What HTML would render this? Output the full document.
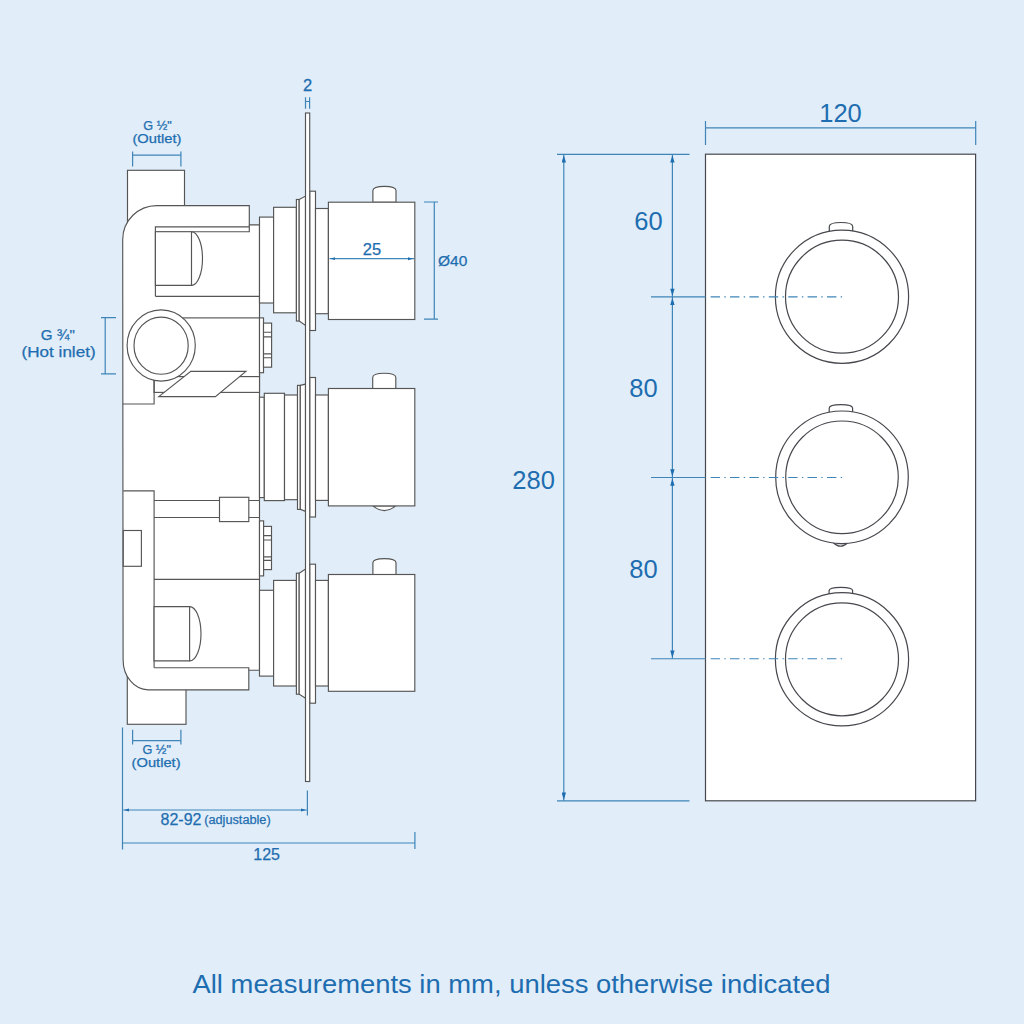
<!DOCTYPE html>
<html><head><meta charset="utf-8"><style>
html,body{margin:0;padding:0;background:#E1EDF8;}
svg{display:block;}
text{font-family:"Liberation Sans",sans-serif;fill:#1E6DB0;}
</style></head><body>
<svg width="1024" height="1024" viewBox="0 0 1024 1024">
<defs>
<marker id="ah" viewBox="0 0 10 6" refX="11.2" refY="3" markerWidth="8.3" markerHeight="4.4" markerUnits="userSpaceOnUse" orient="auto-start-reverse"><path d="M0,0 L10,3 L0,6 z" fill="#1E6DB0"/></marker>
<marker id="as" viewBox="0 0 10 6" refX="11.5" refY="3" markerWidth="5.2" markerHeight="3.6" markerUnits="userSpaceOnUse" orient="auto-start-reverse"><path d="M0,0 L10,3 L0,6 z" fill="#1E6DB0"/></marker>
</defs>
<rect x="0" y="0" width="1024" height="1024" fill="#E1EDF8"/>

<!-- ============ SIDE VIEW ============ -->
<g id="side" fill="#fff" stroke="#555" stroke-width="1.15" stroke-linejoin="miter">
  <!-- outlet pipes -->
  <rect x="127.5" y="170.3" width="57" height="60"/>
  <rect x="127.3" y="665" width="58.7" height="59.3"/>
  <!-- body silhouette -->
  <path d="M122.7,239.5 A34,33.9 0 0 1 156.7,205.6 L249.3,205.6 L249.3,224.9 L259.5,224.9 L259.5,670.2 L248.8,670.2 L248.8,689.8 L148.1,689.8 A25,30.1 0 0 1 123.1,659.7 Z"/>
  <!-- top elbow internals -->
  <path fill="none" d="M155.4,296.3 L155.4,226.8 L249.3,226.8 M155.4,231.7 L249.3,231.7 L249.3,224.9 M155.4,296.3 L259.5,296.3"/>
  <!-- top cartridge -->
  <path d="M155.4,231.7 L191.5,231.7 L191.5,285.4 L155.4,285.4 Z"/>
  <path fill="none" d="M191.5,231.7 A11,26.85 0 0 1 191.5,285.4"/>
  <!-- inlet housing & pipe -->
  <rect x="170" y="317.9" width="89.5" height="58.7"/>
  <rect x="154.1" y="376.6" width="105.4" height="15.8"/>
  <path fill="none" d="M122.8,404 L154.1,404 L154.1,378"/>
  <!-- hot inlet circle -->
  <ellipse cx="161.2" cy="345.45" rx="34.1" ry="35.6"/>
  <ellipse cx="161.1" cy="345.65" rx="27.1" ry="28.55"/>
  <!-- parallelogram -->
  <path d="M190.8,371.4 L245.9,371.4 L215.4,396.6 L158.8,396.6 Z"/>
  <!-- lower middle -->
  <path fill="none" d="M123.3,490.8 L154.1,490.8 L154.1,667.7 M154.1,500.5 L259.5,500.5 M154.1,517.5 L259.5,517.5 M154.1,579.4 L259.5,579.4"/>
  <rect x="219.5" y="497.3" width="29.3" height="24.3"/>
  <rect x="123.3" y="530.5" width="18.1" height="35.8"/>
  <!-- lower cartridge -->
  <path d="M154.1,606.6 L189.6,606.6 L189.6,660.9 L154.1,660.9 Z"/>
  <path fill="none" d="M189.6,606.6 A11.4,27.15 0 0 1 189.6,660.9"/>
  <path fill="none" d="M154.1,667.7 L248.8,667.7 L248.8,670.2"/>

  <!-- nuts -->
  <rect x="259.5" y="317.9" width="4" height="54.8"/>
  <rect x="263.5" y="323.1" width="8.1" height="44.1"/>
  <path fill="none" d="M263.5,332.2 H271.6 M263.5,336.9 H271.6 M263.5,353.9 H271.6 M263.5,357.7 H271.6"/>
  <rect x="259.5" y="520.9" width="4.1" height="55"/>
  <rect x="263.6" y="526.4" width="7.9" height="43.2"/>
  <path fill="none" d="M263.6,535.6 H271.5 M263.6,540 H271.5 M263.6,556.8 H271.5 M263.6,560.4 H271.5"/>

  <!-- handle 1 -->
  <rect x="259.5" y="217.1" width="14.1" height="85.9"/>
  <rect x="273.6" y="207.3" width="22.8" height="105.5"/>
  <rect x="296.4" y="199.5" width="2.8" height="121.5"/>
  <path d="M299.2,199.5 L305.5,196.1 L305.5,325.4 L299.2,321 Z"/>
  <rect x="309.7" y="191.2" width="5.8" height="139.3"/>
  <rect x="315.5" y="208.5" width="12.9" height="105.2"/>
  <path d="M372.9,202.2 L372.9,190.5 C372.9,187.5 376.9,186.3 384.45,186.3 C392,186.3 396,187.5 396,190.5 L396,202.2 Z"/>
  <rect x="328.4" y="202.2" width="86.4" height="117.3"/>
  <!-- handle 2 -->
  <rect x="259.5" y="397.2" width="4.8" height="100.4"/>
  <rect x="264.3" y="393.3" width="20.2" height="107.3"/>
  <rect x="284.5" y="395" width="13" height="104.7"/>
  <rect x="297.5" y="385.4" width="2.8" height="124"/>
  <path d="M300.3,385.4 L305.5,384.1 L305.5,511.4 L300.3,509.4 Z"/>
  <rect x="309.7" y="377.5" width="5.8" height="139.5"/>
  <rect x="315.5" y="395" width="12.9" height="105.4"/>
  <path d="M372.7,388.5 L372.7,377.4 C372.7,374.4 376.7,373.2 384.25,373.2 C391.8,373.2 395.8,374.4 395.8,377.4 L395.8,388.5 Z"/>
  <path d="M372.9,505.9 Q384.3,515.2 395.7,505.9 Z"/>
  <rect x="328.4" y="388.5" width="86.4" height="117.4"/>
  <!-- handle 3 -->
  <rect x="259.5" y="590.3" width="14.1" height="85.8"/>
  <rect x="273.6" y="580.4" width="22.8" height="105.6"/>
  <rect x="296.4" y="573.2" width="2.8" height="121"/>
  <path d="M299.2,573.2 L305.5,569 L305.5,698.3 L299.2,694.2 Z"/>
  <rect x="309.7" y="564.2" width="5.8" height="139"/>
  <rect x="315.5" y="580.4" width="12.9" height="105.6"/>
  <path d="M372.9,574.5 L372.9,562.8000000000001 C372.9,559.8000000000001 376.9,558.6 384.45,558.6 C392,558.6 396,559.8000000000001 396,562.8000000000001 L396,574.5 Z"/>
  <rect x="328.4" y="574.5" width="86.4" height="116.8"/>
  <!-- wall plate -->
  <rect x="305.5" y="113" width="4.2" height="668.5"/>
</g>

<!-- ============ FRONT VIEW ============ -->
<g fill="#fff" stroke="#46484d" stroke-width="1.2">
  <rect x="705.5" y="154.2" width="270.1" height="646.6"/>
  <path d="M829.3,236 L829.3,226.5 C829.3,223.5 833.3,222.5 841.00,222.5 C848.7,222.5 852.7,223.5 852.7,226.5 L852.7,236 Z"/>
  <circle cx="842" cy="296.7" r="66.6"/><circle cx="842" cy="296.7" r="56.5"/>
  <path d="M829.2,418 L829.2,408.3 C829.2,405.7 833.2,404.7 840.90,404.7 C848.6,404.7 852.6,405.7 852.6,408.3 L852.6,418 Z"/>
  <path d="M832.8,542 Q840.5,550.5 848.3,542 Z" fill="#ddd"/>
  <circle cx="842" cy="477.3" r="66.3"/><circle cx="842" cy="477.3" r="56.3"/>
  <path d="M829.1,600 L829.1,590.6 C829.1,588.4 833.1,587.4 840.85,587.4 C848.6,587.4 852.6,588.4 852.6,590.6 L852.6,600 Z"/>
  <circle cx="842" cy="659.3" r="66.6"/><circle cx="842" cy="659.3" r="56.5"/>
</g>

<!-- ============ DIMENSIONS ============ -->
<g fill="none" stroke="#3F85B8" stroke-width="1.2">
  <!-- G1/2 top -->
  <path d="M132.6,151.4 V166.6 M180.9,151.4 V166.6 M132.6,155.2 H180.9"/>
  <!-- G1/2 bottom -->
  <path d="M132.6,729.8 V744.6 M180.9,729.8 V744.6 M132.6,740.7 H180.9"/>
  <!-- G3/4 -->
  <path d="M105.2,317.7 V373.9 M101,317.7 H116 M101,373.9 H116"/>
  <!-- 2 marker -->
  <path d="M305.5,97.2 V108.7 M309.6,97.2 V108.7 M305.5,101.5 H309.6"/>
  <!-- 25 -->
  <path d="M329.5,258.7 H414" marker-start="url(#as)" marker-end="url(#as)"/>
  <!-- Ø40 -->
  <path d="M424,202 H438 M424,319.2 H438 M434.3,202 V319.2"/>
  <!-- 82-92 -->
  <path d="M123.2,810 H306.9" marker-start="url(#as)" marker-end="url(#as)"/>
  <path d="M307.4,790.4 V815.4 M122.5,727.4 V849.5"/>
  <!-- 125 -->
  <path d="M122.5,843 H414.9 M414.9,832 V849"/>
  <!-- 120 -->
  <path d="M705.5,121 V145 M975.7,121 V145 M705.5,127.8 H975.7"/>
  <!-- 280 -->
  <path d="M557,154.4 H689.5 M557,800.8 H689.5"/>
  <path d="M563.8,154.4 V800.8" marker-start="url(#ah)" marker-end="url(#ah)"/>
  <!-- 60/80/80 -->
  <path d="M672.4,154.4 V296.9" marker-start="url(#ah)" marker-end="url(#ah)"/>
  <path d="M672.4,296.9 V477.5" marker-start="url(#ah)" marker-end="url(#ah)"/>
  <path d="M672.4,477.5 V658.75" marker-start="url(#ah)" marker-end="url(#ah)"/>
  <!-- center lines -->
  <path d="M651,296.9 H705.5 M651,477.5 H705.5 M651,658.75 H705.5"/>
  <path d="M710.6,296.9 H843 M710.6,477.5 H843 M710.6,658.75 H843" stroke-dasharray="9.4 4.3 1.4 4.3"/>
</g>

<!-- ============ TEXT ============ -->
<g>
<g stroke="#1E6DB0" stroke-width="0.25">
  <text x="143.3" y="129.5" font-size="12.5" textLength="28.4" lengthAdjust="spacingAndGlyphs">G ½"</text>
  <text x="132.4" y="142.6" font-size="12.5" textLength="49" lengthAdjust="spacingAndGlyphs">(Outlet)</text>
  <text x="142.5" y="754.4" font-size="12.5" textLength="28.4" lengthAdjust="spacingAndGlyphs">G ½"</text>
  <text x="131.6" y="767.3" font-size="12.5" textLength="49" lengthAdjust="spacingAndGlyphs">(Outlet)</text>
  <text x="40.8" y="339.5" font-size="14.5" textLength="34" lengthAdjust="spacingAndGlyphs">G ¾"</text>
  <text x="21.6" y="357.3" font-size="14.5" textLength="74" lengthAdjust="spacingAndGlyphs">(Hot inlet)</text>
</g>
  <text x="307.7" y="90.8" font-size="16.5" text-anchor="middle" stroke="#1E6DB0" stroke-width="0.3">2</text>
  <text x="372" y="254.9" font-size="16.5" text-anchor="middle" stroke="#1E6DB0" stroke-width="0.25">25</text>
  <text x="438" y="265.8" font-size="15.5" stroke="#1E6DB0" stroke-width="0.25">Ø40</text>
  <text x="160.5" y="824.6" font-size="16" stroke="#1E6DB0" stroke-width="0.25">82-92</text>
  <text x="204.2" y="824" font-size="12.5" textLength="66.5" lengthAdjust="spacingAndGlyphs" stroke="#1E6DB0" stroke-width="0.25">(adjustable)</text>
  <text x="266.6" y="859.7" font-size="16" text-anchor="middle" stroke="#1E6DB0" stroke-width="0.25">125</text>
  <text x="840.5" y="122" font-size="25.5" text-anchor="middle">120</text>
  <text x="648.5" y="230.2" font-size="25.5" text-anchor="middle">60</text>
  <text x="643.5" y="397.2" font-size="25.5" text-anchor="middle">80</text>
  <text x="643.5" y="578.4" font-size="25.5" text-anchor="middle">80</text>
  <text x="533.6" y="488.7" font-size="25.5" text-anchor="middle">280</text>
  <text x="192.5" y="992.5" font-size="26.5" textLength="638" lengthAdjust="spacingAndGlyphs">All measurements in mm, unless otherwise indicated</text>
</g>
</svg>
</body></html>
